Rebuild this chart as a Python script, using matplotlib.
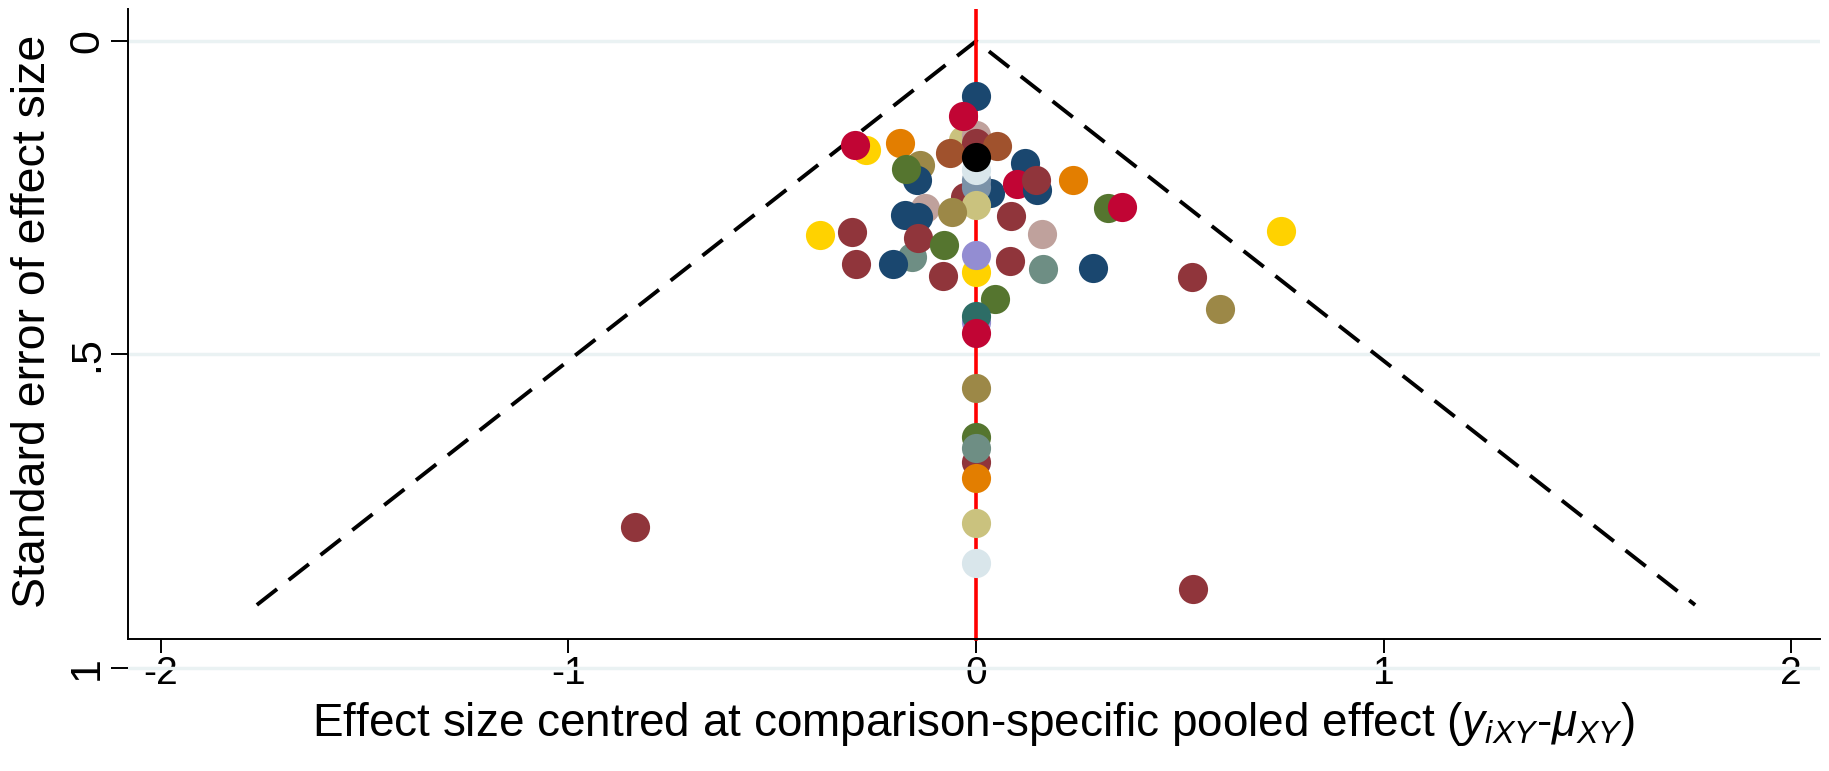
import matplotlib
matplotlib.use("Agg")
import matplotlib.pyplot as plt

plt.rcParams['font.family'] = ['Liberation Sans', 'DejaVu Sans']
plt.rcParams['mathtext.fontset'] = 'custom'
plt.rcParams['mathtext.rm'] = 'Liberation Sans'
plt.rcParams['mathtext.it'] = 'Liberation Sans:italic'

# Stata s2color palette
palette = {
    'navy': '#1a476f', 'maroon': '#90353b', 'green': '#55752f',
    'dkorange': '#e37e00', 'teal': '#6e8e84', 'cranberry': '#c10534',
    'lavender': '#938dd2', 'khaki': '#cac27e', 'sienna': '#a0522d',
    'emidblue': '#7b92a8', 'emerald': '#2d6d66', 'brown': '#9c8847',
    'erose': '#bfa19c', 'gold': '#ffd200', 'bluishgray': '#d9e6eb',
    'black': '#000000',
}

# centred effect sizes, standard errors and comparison colour (draw order)
effect = [-0.271, -0.297, -0.186, -0.031, 0.0, 0.0, -0.064, 0.051,
          0.034, -0.027, 0.0, 0.0, 0.0, 0.0, 0.0, 0.0, -0.031,
          -0.137, -0.145, -0.172,
          -0.125, -0.174, -0.141, -0.06,
          -0.157, -0.203, -0.143, -0.078,
          -0.383, -0.303, 0.0, 0.0, -0.295, -0.08,
          0.083, 0.164, 0.288, 0.529, 0.598, 0.748, 0.163, 0.085,
          0.12, 0.10, 0.149, 0.148, 0.239, 0.324, 0.359,
          0.047, 0.0, 0.0, 0.0, 0.0,
          0.0, 0.0, 0.0, 0.0, 0.0, 0.0,
          -0.837, 0.533]
se = [0.173, 0.166, 0.163, 0.158, 0.150, 0.163, 0.179, 0.167,
      0.243, 0.249, 0.233, 0.222, 0.205, 0.185, 0.262, 0.087, 0.119,
      0.198, 0.222, 0.204,
      0.267, 0.278, 0.280, 0.273,
      0.344, 0.356, 0.314, 0.326,
      0.310, 0.304, 0.368, 0.341, 0.355, 0.375,
      0.351, 0.363, 0.362, 0.376, 0.427, 0.303, 0.308, 0.279,
      0.195, 0.228, 0.238, 0.221, 0.222, 0.266, 0.265,
      0.412, 0.448, 0.439, 0.466, 0.554,
      0.632, 0.672, 0.650, 0.698, 0.769, 0.833,
      0.776, 0.875]
group = ['gold', 'cranberry', 'dkorange', 'khaki', 'erose', 'maroon', 'sienna', 'sienna',
         'navy', 'maroon', 'emidblue', 'emidblue', 'bluishgray', 'black', 'khaki', 'navy', 'cranberry',
         'brown', 'navy', 'green',
         'erose', 'navy', 'navy', 'brown',
         'teal', 'navy', 'maroon', 'green',
         'gold', 'maroon', 'gold', 'lavender', 'maroon', 'maroon',
         'maroon', 'teal', 'navy', 'maroon', 'brown', 'gold', 'erose', 'maroon',
         'navy', 'cranberry', 'navy', 'maroon', 'dkorange', 'green', 'cranberry',
         'green', 'lavender', 'emerald', 'cranberry', 'brown',
         'green', 'maroon', 'teal', 'dkorange', 'khaki', 'bluishgray',
         'maroon', 'maroon']

se_max = 0.9
x_ticks = [-2, -1, 0, 1, 2]
y_ticks = [0, 0.5, 1]
y_tick_labels = ['0', '.5', '1']

y_top, y_axis, y_bottom = -0.051, 0.955, 1.06

fig = plt.figure(figsize=(18.29, 7.71), dpi=100)
ax = fig.add_axes([0.070, 0.0854, 0.925, 0.9026])
ax.set_xlim(-2.080, 2.070)
ax.set_ylim(y_bottom, y_top)

# grid
ax.set_yticks(y_ticks)
ax.set_yticklabels(y_tick_labels, rotation=90, va='center', fontsize=31)
ax.yaxis.grid(True, color='#eaf2f3', lw=2.5)
ax.set_axisbelow(True)

# pseudo 95% limits
ax.plot([-1.96 * se_max, 0, 1.96 * se_max], [se_max, 0, se_max],
        color='black', lw=2.8, dashes=(6.6, 3.8), zorder=2)
ax.plot([0, 0], [y_top, y_axis], color='#ff0000', lw=2.6, zorder=2)

for x, s, g in zip(effect, se, group):
    ax.plot(x, s, 'o', ms=21, color=palette[g], mec='none', zorder=3)

# axes styling
for side in ['top', 'right']:
    ax.spines[side].set_visible(False)
ax.spines['bottom'].set_position(('data', y_axis))
ax.spines['left'].set_bounds(y_top, y_axis)
for side in ['left', 'bottom']:
    ax.spines[side].set_linewidth(1.4)
ax.set_xticks(x_ticks)
ax.set_xticklabels([str(t) for t in x_ticks], fontsize=28)
ax.tick_params(axis='x', length=10, width=1.4, pad=2)
ax.tick_params(axis='y', length=12, width=1.4, pad=3)

fig.text(0.5325, 0.061,
         r'Effect size centred at comparison-specific pooled effect ($y_{iXY}$-$\mu_{XY}$)',
         ha='center', va='center', fontsize=33)
fig.text(0.018, 0.5837, 'Standard error of effect size', rotation=90,
         ha='center', va='center', fontsize=33.5)

plt.savefig('out.png', dpi=100)
